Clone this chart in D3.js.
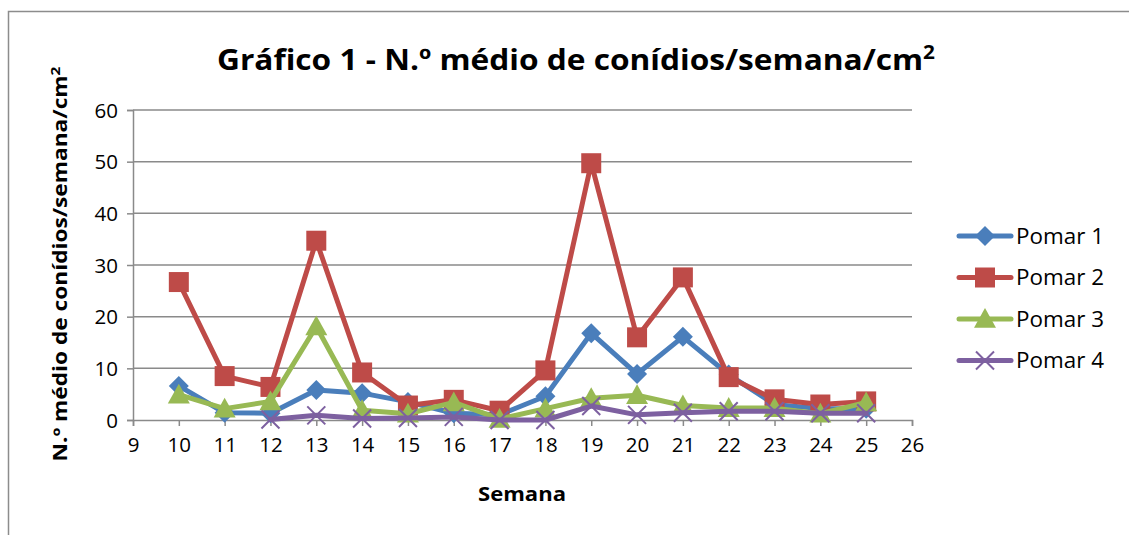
<!DOCTYPE html>
<html>
<head>
<meta charset="utf-8">
<script src="https://cdn.jsdelivr.net/npm/d3@7"></script>
<style>
  body { margin: 0; background: #fff; }
  text { font-family: "Open Sans", "DejaVu Sans", sans-serif; fill: #000; }
</style>
</head>
<body>
<script>
var weeks = [10, 11, 12, 13, 14, 15, 16, 17, 18, 19, 20, 21, 22, 23, 24, 25];
var pomar1 = [6.6, 1.4, 1.3, 5.8, 5.2, 3.5, 1.3, 1.0, 4.6, 16.8, 8.9, 16.1, 8.8, 3.0, 2.2, 2.2];
var pomar2 = [26.7, 8.5, 6.4, 34.7, 9.2, 2.8, 3.9, 1.8, 9.6, 49.7, 16.0, 27.6, 8.3, 4.0, 3.0, 3.6];
var pomar3 = [4.9, 2.2, 3.6, 18.1, 1.9, 1.2, 3.4, 0.2, 2.2, 4.2, 4.8, 2.8, 2.3, 2.3, 1.2, 3.4];
var pomar4 = [null, null, 0.1, 0.9, 0.3, 0.4, 0.6, 0.0, 0.0, 2.7, 1.0, 1.4, 1.7, 1.7, 1.3, 1.3];
var seriesNames = ['Pomar 1', 'Pomar 2', 'Pomar 3', 'Pomar 4'];
var seriesColors = ['#4a7ebb', '#be4b48', '#98b954', '#7d60a0'];
var seriesMarkers = ['diamond', 'square', 'triangle', 'x'];
var yTicks = [0, 10, 20, 30, 40, 50, 60];
var xTicks = d3.range(9, 27);

var width = 1129, height = 535;
var margin = {left: 133, top: 110, right: 912, bottom: 420};

var svg = d3.select('body').append('svg')
    .attr('width', width)
    .attr('height', height);

// chart border
svg.append('path')
    .attr('d', 'M8.5,' + height + ' V11.5 H' + width)
    .attr('fill', 'none')
    .attr('stroke', '#8c8c8c')
    .attr('stroke-width', 1.5);

var x = d3.scaleLinear().domain([9, 26]).range([margin.left, margin.right]);
var y = d3.scaleLinear().domain([0, 60]).range([margin.bottom, margin.top]);

// gridlines
svg.append('g').selectAll('line')
    .data(yTicks.slice(1))
    .enter().append('line')
    .attr('x1', margin.left).attr('x2', margin.right)
    .attr('y1', function (d) { return y(d); })
    .attr('y2', function (d) { return y(d); })
    .attr('stroke', '#8a8a8a')
    .attr('stroke-width', 1.5);

// y axis
var yAxis = svg.append('g')
    .attr('transform', 'translate(' + margin.left + ',0)')
    .call(d3.axisLeft(y).tickValues(yTicks).tickSize(6).tickPadding(9));
// x axis
var xAxis = svg.append('g')
    .attr('transform', 'translate(0,' + margin.bottom + ')')
    .call(d3.axisBottom(x).tickValues(xTicks).tickSize(6).tickPadding(11));

[yAxis, xAxis].forEach(function (a) {
    a.select('.domain').attr('stroke', '#8a8a8a').attr('stroke-width', 1.5);
    a.selectAll('.tick line').attr('stroke', '#8a8a8a').attr('stroke-width', 1.5);
    a.selectAll('.tick text')
        .style('font-family', '"Open Sans", sans-serif')
        .style('font-size', '20.5px')
        .attr('fill', '#000');
});
yAxis.selectAll('.tick text').attr('dy', '0.35em');

// series
var allSeries = [pomar1, pomar2, pomar3, pomar4];

function markerPath(type, cx, cy) {
    if (type === 'diamond') {
        var r = 10;
        return 'M' + cx + ',' + (cy - r) + 'L' + (cx + r) + ',' + cy + 'L' + cx + ',' + (cy + r) + 'L' + (cx - r) + ',' + cy + 'Z';
    }
    if (type === 'square') {
        var s = 10;
        return 'M' + (cx - s) + ',' + (cy - s) + 'h' + 2 * s + 'v' + 2 * s + 'h' + -2 * s + 'Z';
    }
    if (type === 'triangle') {
        var t = 11;
        return 'M' + cx + ',' + (cy - t) + 'L' + (cx + t) + ',' + (cy + t * 0.8) + 'L' + (cx - t) + ',' + (cy + t * 0.8) + 'Z';
    }
    var k = 9;
    return 'M' + (cx - k) + ',' + (cy - k) + 'L' + (cx + k) + ',' + (cy + k) + 'M' + (cx - k) + ',' + (cy + k) + 'L' + (cx + k) + ',' + (cy - k);
}

var line = d3.line()
    .defined(function (d) { return d.v !== null; })
    .x(function (d) { return x(d.w); })
    .y(function (d) { return y(d.v); });

allSeries.forEach(function (vals, i) {
    var pts = weeks.map(function (w, j) { return {w: w, v: vals[j]}; });
    var g = svg.append('g');
    g.append('path')
        .attr('d', line(pts))
        .attr('fill', 'none')
        .attr('stroke', seriesColors[i])
        .attr('stroke-width', 5)
        .attr('stroke-linejoin', 'round')
        .attr('stroke-linecap', 'round');
    g.selectAll('path.mk')
        .data(pts.filter(function (d) { return d.v !== null; }))
        .enter().append('path')
        .attr('class', 'mk')
        .attr('d', function (d) { return markerPath(seriesMarkers[i], x(d.w), y(d.v)); })
        .attr('fill', seriesMarkers[i] === 'x' ? 'none' : seriesColors[i])
        .attr('stroke', seriesColors[i])
        .attr('stroke-width', seriesMarkers[i] === 'x' ? 2 : 0);
});

// legend
var legend = svg.append('g');
seriesNames.forEach(function (name, i) {
    var ly = 236 + i * 41.5;
    legend.append('line')
        .attr('x1', 959).attr('x2', 1011)
        .attr('y1', ly).attr('y2', ly)
        .attr('stroke', seriesColors[i])
        .attr('stroke-width', 5)
        .attr('stroke-linecap', 'round');
    legend.append('path')
        .attr('d', markerPath(seriesMarkers[i], 985, ly))
        .attr('fill', seriesMarkers[i] === 'x' ? 'none' : seriesColors[i])
        .attr('stroke', seriesColors[i])
        .attr('stroke-width', seriesMarkers[i] === 'x' ? 2 : 0);
    legend.append('text')
        .attr('x', 1016).attr('y', ly)
        .attr('dy', '0.36em')
        .style('font-size', '21px')
        .attr('textLength', 88)
        .attr('lengthAdjust', 'spacingAndGlyphs')
        .text(name);
});

// title
var title = svg.append('text')
    .attr('x', 576).attr('y', 70)
    .attr('text-anchor', 'middle')
    .style('font-size', '29px')
    .style('font-weight', 'bold')
    .attr('textLength', 718)
    .attr('lengthAdjust', 'spacingAndGlyphs');
title.append('tspan').text('Gráfico 1 - N.º médio de conídios/semana/cm');
title.append('tspan').attr('dy', -11).style('font-size', '19px').text('2');

// axis titles
svg.append('text')
    .attr('x', 522).attr('y', 501)
    .attr('text-anchor', 'middle')
    .style('font-size', '19px')
    .style('font-weight', 'bold')
    .attr('textLength', 88)
    .attr('lengthAdjust', 'spacingAndGlyphs')
    .text('Semana');

var yt = svg.append('text')
    .attr('transform', 'translate(67,264) rotate(-90)')
    .attr('text-anchor', 'middle')
    .style('font-size', '19px')
    .style('font-weight', 'bold')
    .attr('textLength', 395)
    .attr('lengthAdjust', 'spacingAndGlyphs');
yt.append('tspan').text('N.º médio de conídios/semana/cm');
yt.append('tspan').attr('dy', -7).style('font-size', '13px').text('2');
</script>
</body>
</html>
